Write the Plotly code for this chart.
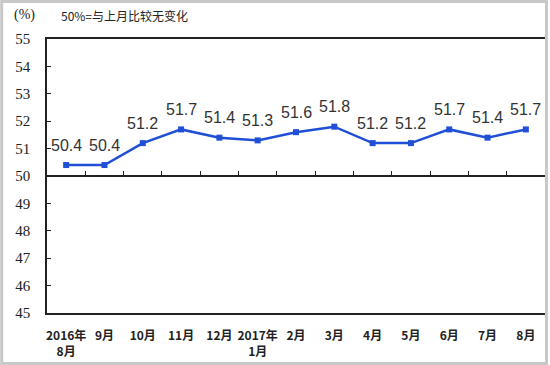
import plotly.graph_objects as go

categories = ["2016年<br>8月", "9月", "10月", "11月", "12月", "2017年<br>1月",
              "2月", "3月", "4月", "5月", "6月", "7月", "8月"]
values = [50.4, 50.4, 51.2, 51.7, 51.4, 51.3, 51.6, 51.8, 51.2, 51.2, 51.7, 51.4, 51.7]
y_ticks = [45, 46, 47, 48, 49, 50, 51, 52, 53, 54, 55]
labels = [f"{v:.1f}" for v in values]

n = len(categories)
xs = list(range(n))

SERIF = "'DejaVu Serif', serif"
SERIF = "Liberation Serif"

fig = go.Figure()
fig.add_trace(go.Scatter(
    x=xs, y=values, mode="lines+markers",
    line=dict(color="#1f4fd6", width=2.5),
    marker=dict(symbol="square", size=6, color="#1f4fd6"),
    cliponaxis=False, showlegend=False,
))
for x, v, t in zip(xs, values, labels):
    fig.add_annotation(x=x, y=v, text=t, showarrow=False, yshift=20,
                       font=dict(family="Liberation Sans, Arial", size=16, color="#333333"))

L, R, T, B = 47, 3, 39, 52
W, H = 550, 365
pw, ph = W - L - R, H - T - B

fig.update_layout(
    width=W, height=H,
    margin=dict(l=L, r=R, t=T, b=B),
    paper_bgcolor="white", plot_bgcolor="white",
    xaxis=dict(
        range=[-0.5, n - 0.5], tickmode="array", tickvals=xs, ticktext=categories,
        showline=True, linecolor="#222", linewidth=1.5, mirror=True,
        ticks="", showgrid=False, zeroline=False, ticklabelstandoff=11,
        tickfont=dict(family="Noto Sans CJK SC", size=12, color="#222", weight="bold"),
    ),
    xaxis2=dict(
        overlaying="x", anchor="free", position=0.5, side="bottom",
        range=[-0.5, n - 0.5], tickmode="array",
        tickvals=[i + 0.5 for i in range(n - 1)],
        showticklabels=False, ticks="inside", ticklen=4, tickcolor="#222",
        showline=True, linecolor="#222", linewidth=1.5,
        showgrid=False, zeroline=False, visible=True,
    ),
    yaxis=dict(
        range=[45, 55], tickmode="array", tickvals=y_ticks,
        showline=True, linecolor="#222", linewidth=1.5, mirror=True,
        ticks="inside", ticklen=4, tickcolor="#222",
        showgrid=False, zeroline=False, ticklabelstandoff=12,
        tickfont=dict(family=SERIF, size=15, color="#222"),
    ),
    font=dict(family="Noto Sans CJK SC"),
)

fig.add_trace(go.Scatter(x=[0], y=[50], xaxis="x2", mode="markers",
                         marker=dict(opacity=0), hoverinfo="skip", showlegend=False))

fig.add_annotation(text="(%)", xref="paper", yref="paper",
                   x=(12 - L) / pw, y=1 + (T - 15) / ph, xanchor="left", yanchor="middle",
                   showarrow=False, font=dict(family=SERIF, size=14, color="#222"))
fig.add_annotation(text="50%=与上月比较无变化", xref="paper", yref="paper",
                   x=(59 - L) / pw, y=1 + (T - 15) / ph, xanchor="left", yanchor="middle",
                   showarrow=False, font=dict(family="Noto Sans CJK SC", size=12, color="#222"))

fig.add_shape(type="rect", xref="paper", yref="paper",
              x0=(1.5 - L) / pw, x1=(W - 1.5 - L) / pw,
              y0=-(H - 1.5 - T - ph) / ph, y1=1 + (T - 1.5) / ph,
              line=dict(color="#c8c8c8", width=3), layer="above")

fig.write_html("out.html")
